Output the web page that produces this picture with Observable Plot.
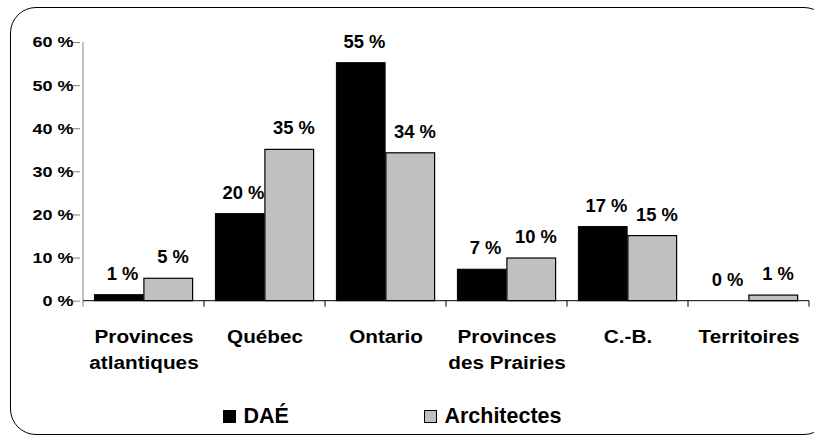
<!DOCTYPE html>
<html>
<head>
<meta charset="utf-8">
<script src="https://cdn.jsdelivr.net/npm/d3@7"></script>
<script src="https://cdn.jsdelivr.net/npm/@observablehq/plot@0.6"></script>
<style>
  html, body { margin: 0; padding: 0; background: #fff; overflow: hidden; width: 814px; height: 437px; }
  body { position: relative; font-family: "Liberation Sans", Arial, sans-serif; font-weight: bold; }
  #frame { position: absolute; left: 10px; top: 6.5px; width: 818px; height: 426px; border: 1.5px solid #000; border-radius: 26px; pointer-events: none; }
  #chart svg { display: block; }
  #legend { display: flex; align-items: center; height: 36px; margin-left: 223px; font-size: 21.5px; color: #000; }
  .item { display: flex; align-items: center; margin-right: 135px; }
  .sw { width: 11px; height: 11px; border: 1px solid #000; margin-right: 7.5px; }
</style>
</head>
<body>
<div id="chart"></div>
<div id="legend"></div>
<div id="frame"></div>
<script>
const categories = ["Provinces atlantiques", "Québec", "Ontario", "Provinces des Prairies", "C.-B.", "Territoires"];
const tickLabels = ["Provinces\natlantiques", "Québec", "Ontario", "Provinces\ndes Prairies", "C.-B.", "Territoires"];
const series = ["DAÉ", "Architectes"];
const daeValues = [1.4, 20.2, 55.2, 7.3, 17.2, 0];
const archValues = [5.2, 35.1, 34.3, 9.9, 15.1, 1.3];
const yTicks = [0, 10, 20, 30, 40, 50, 60];
const colors = ["#000000", "#c0c0c0"];

const daeData = categories.map((c, i) => ({cat: c, series: series[0], value: daeValues[i]}));
const archData = categories.map((c, i) => ({cat: c, series: series[1], value: archValues[i]}));
const pct = d => Math.round(d.value) + " %";

function axisLines(index, {x, y}) {
  const g = d3.create("svg:g");
  const y0 = y(0);
  const bw = x.bandwidth();
  const x0 = x(categories[0]);
  const n = categories.length;
  g.append("line").attr("x1", x0).attr("x2", x0).attr("y1", y(yTicks[yTicks.length - 1])).attr("y2", y0 + 6).attr("stroke", "#808080");
  g.append("line").attr("x1", x0).attr("x2", x0 + n * bw).attr("y1", y0).attr("y2", y0).attr("stroke", "#000");
  for (let k = 1; k <= n; k++) {
    g.append("line").attr("x1", x0 + k * bw).attr("x2", x0 + k * bw).attr("y1", y0).attr("y2", y0 + 6).attr("stroke", "#000");
  }
  return g.node();
}

const chart = Plot.plot({
  width: 814,
  height: 398,
  marginTop: 42,
  marginBottom: 97.3,
  marginLeft: 80,
  marginRight: 3,
  style: {fontFamily: "'Liberation Sans', Arial, sans-serif", fontWeight: "bold", color: "#000", background: "transparent", overflow: "visible"},
  x: {domain: categories, padding: 0, label: null},
  y: {domain: [0, 60], label: null},
  marks: [
    Plot.barY(daeData, {x: "cat", y: "value", fill: colors[0], stroke: "#000", strokeWidth: 1, insetLeft: 11.4, insetRight: 60.9}),
    Plot.barY(archData, {x: "cat", y: "value", fill: colors[1], stroke: "#000", strokeWidth: 1.2, insetLeft: 60.9, insetRight: 11.4}),
    axisLines,
    Plot.axisY({ticks: yTicks, tickFormat: d => d + " %", tickSize: 7, tickPadding: 0, stroke: "#808080", fontSize: 15.5, fill: "#000", label: null}),
    Plot.axisX({tickSize: 0, tickPadding: 24, tickFormat: d => tickLabels[categories.indexOf(d)], fontSize: 18.5, lineHeight: 1.39, fill: "#000", label: null}),
    Plot.text(daeData, {x: "cat", y: "value", text: pct, dx: -21.5, dy: -21, fontSize: 17.5, fill: "#000"}),
    Plot.text(archData, {x: "cat", y: "value", text: pct, dx: 29, dy: -21, fontSize: 17.5, fill: "#000"})
  ]
});

// widen glyphs horizontally (the reference text is slightly stretched); scale about each text's anchor x
function stretch(sel, s) {
  chart.querySelectorAll(sel).forEach(t => {
    const xv = parseFloat(t.getAttribute("x"));
    const x = isFinite(xv) ? xv : 0;
    const tr = t.getAttribute("transform") || "";
    t.setAttribute("transform", `${tr} translate(${x},0) scale(${s},1) translate(${-x},0)`);
  });
}
stretch('[aria-label="y-axis tick label"] text', 1.16);
stretch('[aria-label="x-axis tick label"] text', 1.12);
stretch('[aria-label="text"] text', 1.05);

document.getElementById("chart").append(chart);

const legend = document.getElementById("legend");
series.forEach((s, i) => {
  const item = document.createElement("div");
  item.className = "item";
  const sw = document.createElement("div");
  sw.className = "sw";
  sw.style.background = colors[i];
  const label = document.createElement("span");
  label.textContent = s;
  item.append(sw, label);
  legend.append(item);
});
</script>
</body>
</html>
